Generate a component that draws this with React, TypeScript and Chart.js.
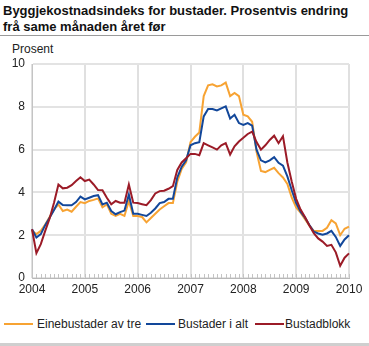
import React, { useEffect, useRef } from 'react';
import { Chart, registerables } from 'chart.js';

Chart.register(...registerables);

const FONT = '"Liberation Sans", Arial, Helvetica, sans-serif';

const titleLines = ['Byggjekostnadsindeks for bustader. Prosentvis endring', 'frå same månaden året før'];
const yAxisLabel = 'Prosent';
const years = ['2004', '2005', '2006', '2007', '2008', '2009', '2010'];
const yTicks = [0, 2, 4, 6, 8, 10];
const seriesNames = ['Einebustader av tre', 'Bustader i alt', 'Bustadblokk'];
const seriesColors = ['#f7a333', '#12479a', '#9b1b27'];

// Monthly values, Jan 2004 – Jan 2010
const einebustader = [
  2.2, 2.05, 2.2, 2.5, 2.85, 3.2, 3.44, 3.13, 3.2, 3.1, 3.33, 3.55,
  3.5, 3.6, 3.65, 3.72, 3.3, 3.44, 3.0, 2.9, 3.0, 2.9, 3.6, 2.9,
  2.9, 2.85, 2.6, 2.8, 3.0, 3.2, 3.35, 3.5, 3.5, 4.5, 5.1, 5.4,
  6.35, 6.6, 6.8, 8.5, 9.0, 9.05, 8.95, 9.0, 9.13, 8.5, 8.65, 8.5,
  7.63, 7.55, 7.3, 5.9, 5.0, 4.95, 5.05, 5.15, 4.9, 4.7, 4.4, 3.75,
  3.3, 3.05, 2.75, 2.45, 2.2, 2.2, 2.2, 2.35, 2.7, 2.55, 2.0, 2.3,
  2.4,
];
const bustaderIAlt = [
  2.28, 1.89, 2.05, 2.47, 2.82, 3.18, 3.57, 3.41, 3.4, 3.4, 3.55, 3.8,
  3.67, 3.75, 3.83, 3.87, 3.44, 3.52, 3.13, 2.98, 3.08, 3.15, 3.9, 3.0,
  3.0, 2.95, 2.9, 3.05, 3.25, 3.5, 3.55, 3.7, 3.7, 4.7, 5.2, 5.5,
  6.2, 6.3, 6.35, 7.55, 7.9, 7.9, 7.83, 7.93, 8.02, 7.45, 7.63, 7.24,
  7.15, 7.24, 7.12, 6.0, 5.5, 5.4, 5.5, 5.65, 5.38, 5.25, 4.75, 4.1,
  3.5, 3.1, 2.82, 2.48, 2.17, 2.08, 2.02, 2.08, 2.2, 1.92, 1.5, 1.8,
  2.0,
];
const bustadblokk = [
  2.28, 1.16, 1.58, 2.2, 2.78, 3.52, 4.37, 4.19, 4.22, 4.34, 4.53, 4.71,
  4.53, 4.6, 4.37, 4.11, 4.1, 3.75, 3.44, 3.6, 3.52, 3.52, 4.37, 3.52,
  3.5, 3.45, 3.4, 3.64, 3.95, 4.06, 4.08, 4.17, 4.29, 5.05, 5.4, 5.6,
  5.8, 5.8, 5.74, 6.3, 6.2, 6.1, 6.0, 6.2, 6.3, 5.77, 6.15, 6.38,
  6.55, 6.73, 6.84, 6.35, 6.0, 6.2, 6.45, 6.65, 6.3, 6.62, 5.4, 4.5,
  3.7, 3.2, 2.85, 2.45, 2.1, 1.85, 1.7, 1.5, 1.55, 1.2, 0.57, 0.95,
  1.15,
];

const labels: string[] = [];
years.forEach((y, yi) => {
  const n = yi === years.length - 1 ? 1 : 12;
  for (let m = 1; m <= n; m++) labels.push(`${y}-${String(m).padStart(2, '0')}`);
});

const minorTicks = {
  id: 'minorTicks',
  beforeDatasetsDraw(chart: any) {
    const { ctx, chartArea, scales } = chart;
    const xs = scales.x;
    ctx.save();
    ctx.strokeStyle = '#c4c4c4';
    ctx.lineWidth = 1;
    for (let i = 0; i < labels.length; i++) {
      const px = Math.round(xs.getPixelForValue(i)) + 0.5;
      ctx.beginPath();
      ctx.moveTo(px, chartArea.bottom);
      ctx.lineTo(px, chartArea.bottom - 4);
      ctx.stroke();
    }
    ctx.restore();
  },
};

export default function App() {
  const ref = useRef<HTMLCanvasElement | null>(null);

  useEffect(() => {
    if (!ref.current) return;
    const data = [einebustader, bustaderIAlt, bustadblokk];
    const chart = new Chart(ref.current, {
      type: 'line',
      data: {
        labels,
        datasets: data.map((d, i) => ({
          label: seriesNames[i],
          data: d,
          borderColor: seriesColors[i],
          backgroundColor: seriesColors[i],
          borderWidth: 2,
          pointRadius: 0,
          tension: 0,
          order: 2 - i,
        })),
      },
      options: {
        animation: false,
        responsive: false,
        devicePixelRatio: 1,
        layout: { padding: { top: 64, right: 20, bottom: 0, left: 0 } },
        plugins: {
          legend: { display: false },
          title: { display: false },
          tooltip: { enabled: false },
        },
        scales: {
          x: {
            type: 'category',
            offset: false,
            ticks: {
              autoSkip: false,
              maxRotation: 0,
              padding: 4,
              color: '#222',
              font: { size: 12, family: FONT },
              callback: (_v: any, i: number) => (i % 12 === 0 ? labels[i].slice(0, 4) : ''),
            },
            grid: {
              color: (c: any) => (c.index % 12 === 0 ? '#e0e0e0' : 'rgba(0,0,0,0)'),
              lineWidth: 2,
              drawTicks: false,
            },
            border: { color: '#b8b8b8', width: 1 },
            afterFit: (s: any) => {
              s.height = 22;
            },
          },
          y: {
            min: yTicks[0],
            max: yTicks[yTicks.length - 1],
            afterBuildTicks: (s: any) => {
              s.ticks = yTicks.map((v) => ({ value: v }));
            },
            ticks: {
              padding: 7,
              color: '#222',
              font: { size: 12, family: FONT },
            },
            grid: { color: '#e3e3e3', lineWidth: 2, drawTicks: false },
            border: { color: '#c4c4c4', width: 1 },
            afterFit: (s: any) => {
              s.width = 32;
            },
          },
        },
      },
      plugins: [minorTicks],
    });
    return () => chart.destroy();
  }, []);

  const legendPos = [
    { line: 4, text: 37 },
    { line: 146, text: 178 },
    { line: 255, text: 285 },
  ];

  return (
    <div
      style={{
        position: 'fixed',
        left: 0,
        top: 0,
        width: 369,
        height: 346,
        background: '#fff',
        fontFamily: FONT,
        color: '#000',
        overflow: 'hidden',
      }}
    >
      <div
        style={{
          position: 'absolute',
          left: 3,
          top: 3,
          fontSize: 13,
          fontWeight: 'bold',
          lineHeight: '16px',
          whiteSpace: 'nowrap',
          color: '#111',
        }}
      >
        {titleLines.map((t, i) => (
          <div key={i}>{t}</div>
        ))}
      </div>
      <div style={{ position: 'absolute', left: 0, top: 35, width: 369, height: 1, background: '#9a9a9a' }} />
      <div style={{ position: 'absolute', left: 12, top: 42, fontSize: 12, lineHeight: '14px', color: '#222' }}>
        {yAxisLabel}
      </div>
      <canvas
        ref={ref}
        width={369}
        height={300}
        style={{ position: 'absolute', left: 0, top: 0, width: 369, height: 300 }}
      />
      {seriesNames.map((n, i) => (
        <React.Fragment key={n}>
          <div
            style={{
              position: 'absolute',
              left: legendPos[i].line,
              top: 323,
              width: 29,
              height: 2,
              background: seriesColors[i],
            }}
          />
          <div
            style={{
              position: 'absolute',
              left: legendPos[i].text,
              top: 317,
              fontSize: 12,
              lineHeight: '14px',
              whiteSpace: 'nowrap',
              color: '#222',
            }}
          >
            {n}
          </div>
        </React.Fragment>
      ))}
      <div style={{ position: 'absolute', left: 0, top: 343, width: 369, height: 3, background: '#cfcfcf' }} />
    </div>
  );
}
